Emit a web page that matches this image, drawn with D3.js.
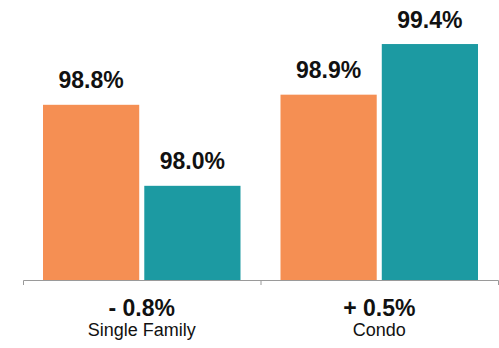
<!DOCTYPE html>
<html>
<head>
<meta charset="utf-8">
<script src="https://cdn.jsdelivr.net/npm/d3@7"></script>
<style>
  html, body { margin: 0; padding: 0; background: #fff; }
  #chart { width: 499px; height: 348px; }
  text { font-family: "Liberation Sans", Arial, Helvetica, sans-serif; }
</style>
</head>
<body>
<div id="chart"><svg width="499" height="348"></svg></div>
<script>
// data
const categories = ["Single Family", "Condo"];
const series = ["Prior", "Current"];
const priorValues = [98.8, 98.9];
const currentValues = [98.0, 99.4];
const changeLabels = ["- 0.8%", "+ 0.5%"];
const colors = ["#f58f53", "#1c9aa2"];

const width = 499;
const height = 348;
const margin = {top: 41, right: 1, bottom: 68, left: 23};
const baseline = height - margin.bottom;

const svg = d3.select("#chart").select("svg");

const rows = categories.map((c, i) => ({
    category: c,
    change: changeLabels[i],
    values: [priorValues[i], currentValues[i]]
}));

// scales
const x0 = d3.scaleBand()
    .domain(categories)
    .range([margin.left, width - margin.right])
    .padding(0);

const x1 = d3.scaleBand()
    .domain(series)
    .range([20, x0.bandwidth() - 20])
    .paddingInner(0.05);

// bars start from a cut-off baseline, as in the original
const y = d3.scaleLinear()
    .domain([97.07, 99.43])
    .range([baseline, margin.top]);

const color = d3.scaleOrdinal().domain(series).range(colors);

// bars
const groups = svg.selectAll(".group")
    .data(rows)
    .enter()
    .append("g")
    .attr("class", "group")
    .attr("transform", d => "translate(" + x0(d.category) + ",0)");

groups.selectAll("rect")
    .data(d => d.values.map((v, j) => ({key: series[j], value: v})))
    .enter()
    .append("rect")
    .attr("x", d => x1(d.key))
    .attr("y", d => y(d.value))
    .attr("width", x1.bandwidth())
    .attr("height", d => baseline - y(d.value))
    .style("fill", d => color(d.key));

groups.selectAll(".val")
    .data(d => d.values.map((v, j) => ({key: series[j], value: v})))
    .enter()
    .append("text")
    .attr("class", "val")
    .attr("x", d => x1(d.key) + x1.bandwidth() / 2)
    .attr("y", d => y(d.value) - 16.5)
    .attr("text-anchor", "middle")
    .attr("font-size", "23px")
    .attr("font-weight", "bold")
    .attr("fill", "#111")
    .text(d => d.value.toFixed(1) + "%");

// axis
const axis = svg.append("g")
    .attr("transform", "translate(0," + baseline + ")")
    .call(d3.axisBottom(x0).tickSize(0).tickSizeOuter(5).tickFormat(""));
axis.select(".domain").attr("stroke", "#9a9a9a");

axis.selectAll(".sep")
    .data(categories.slice(1))
    .enter()
    .append("line")
    .attr("class", "sep")
    .attr("x1", d => x0(d) + 0.5)
    .attr("x2", d => x0(d) + 0.5)
    .attr("y1", 0)
    .attr("y2", 5)
    .attr("stroke", "#9a9a9a");

// category labels
groups.append("text")
    .attr("x", x0.bandwidth() / 2)
    .attr("y", baseline + 35.5)
    .attr("text-anchor", "middle")
    .attr("font-size", "23px")
    .attr("font-weight", "bold")
    .attr("fill", "#111")
    .text(d => d.change);

groups.append("text")
    .attr("x", x0.bandwidth() / 2)
    .attr("y", baseline + 56)
    .attr("text-anchor", "middle")
    .attr("font-size", "18px")
    .attr("fill", "#111")
    .text(d => d.category);
</script>
</body>
</html>
